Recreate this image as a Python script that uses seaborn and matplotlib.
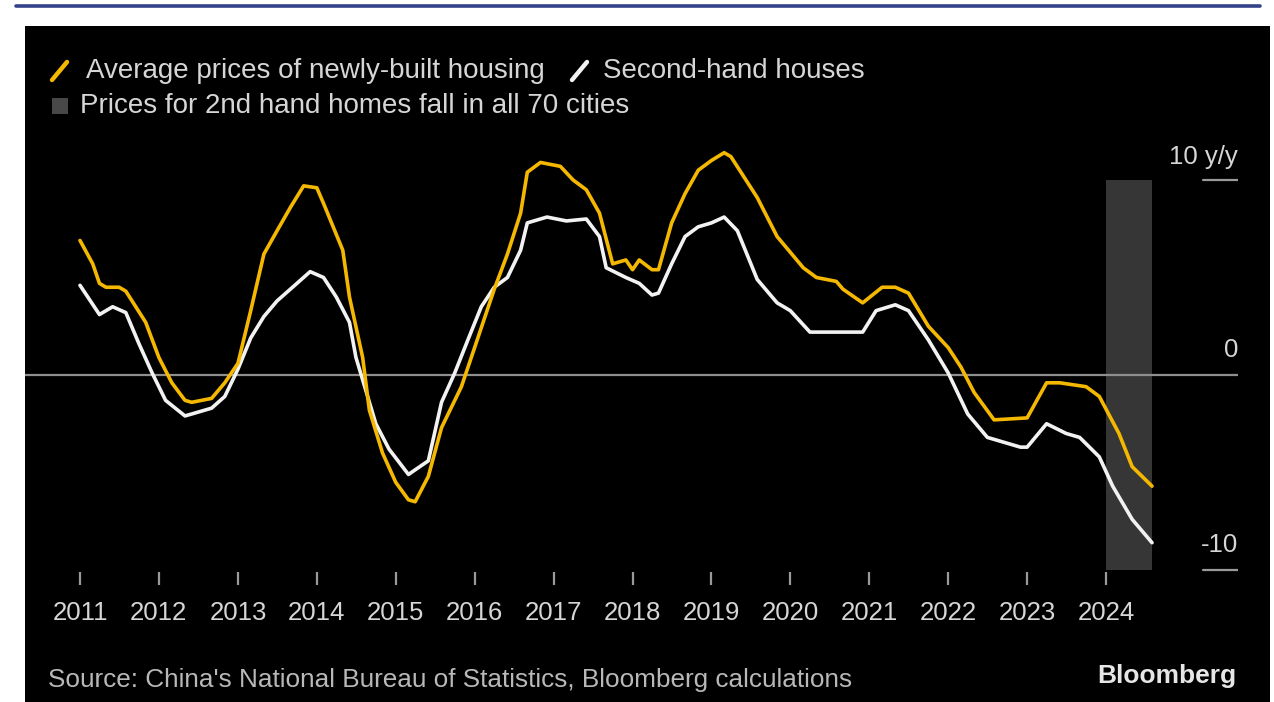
import matplotlib
matplotlib.use("Agg")
import matplotlib.pyplot as plt
import matplotlib.dates as mdates
from matplotlib.patches import Rectangle
from matplotlib.lines import Line2D
import seaborn as sns
import pandas as pd

# ---------------- data ----------------
new_dates = ["2011-01", "2011-03", "2011-04", "2011-05", "2011-07", "2011-08", "2011-11",
             "2012-01", "2012-03", "2012-05", "2012-06", "2012-09", "2012-11",
             "2013-01", "2013-03", "2013-05", "2013-07", "2013-09", "2013-11",
             "2014-01", "2014-02", "2014-05", "2014-06", "2014-08", "2014-09", "2014-11",
             "2015-01", "2015-03", "2015-04", "2015-06", "2015-08", "2015-11",
             "2016-01", "2016-04", "2016-06", "2016-08", "2016-09", "2016-11",
             "2017-02", "2017-04", "2017-06", "2017-08", "2017-10", "2017-12",
             "2018-01", "2018-02", "2018-04", "2018-05", "2018-07", "2018-09", "2018-11",
             "2019-01", "2019-03", "2019-04", "2019-08", "2019-11",
             "2020-03", "2020-05", "2020-08", "2020-09", "2020-12",
             "2021-03", "2021-05", "2021-07", "2021-10",
             "2022-01", "2022-03", "2022-05", "2022-08",
             "2023-01", "2023-04", "2023-06", "2023-10", "2023-12",
             "2024-03", "2024-05", "2024-08"]
new_values = [6.9, 5.7, 4.7, 4.5, 4.5, 4.3, 2.7,
              0.9, -0.4, -1.3, -1.4, -1.2, -0.4,
              0.6, 3.3, 6.2, 7.4, 8.6, 9.7,
              9.6, 8.8, 6.4, 4.0, 0.9, -1.8, -4.0,
              -5.5, -6.4, -6.5, -5.2, -2.7, -0.6,
              1.4, 4.4, 6.2, 8.3, 10.4, 10.9,
              10.7, 10.0, 9.5, 8.3, 5.7, 5.9,
              5.4, 5.9, 5.4, 5.4, 7.8, 9.3, 10.5,
              11.0, 11.4, 11.2, 9.1, 7.1,
              5.5, 5.0, 4.8, 4.4, 3.7,
              4.5, 4.5, 4.2, 2.5,
              1.4, 0.4, -0.9, -2.3,
              -2.2, -0.4, -0.4, -0.6, -1.1,
              -3.0, -4.7, -5.7]

second_dates = ["2011-01", "2011-04", "2011-06", "2011-08", "2011-10", "2011-12",
                "2012-02", "2012-05", "2012-09", "2012-11",
                "2013-01", "2013-03", "2013-05", "2013-07", "2013-10", "2013-12",
                "2014-02", "2014-04", "2014-06", "2014-07", "2014-10", "2014-12",
                "2015-03", "2015-06", "2015-08", "2015-10", "2015-12",
                "2016-02", "2016-04", "2016-06", "2016-08", "2016-09", "2016-12",
                "2017-03", "2017-06", "2017-08", "2017-09", "2017-12",
                "2018-02", "2018-04", "2018-05", "2018-07", "2018-09", "2018-11",
                "2019-01", "2019-03", "2019-05", "2019-08", "2019-11",
                "2020-01", "2020-04", "2020-07", "2020-12",
                "2021-02", "2021-05", "2021-07", "2021-10",
                "2022-01", "2022-04", "2022-07", "2022-12",
                "2023-01", "2023-04", "2023-07", "2023-09", "2023-12",
                "2024-02", "2024-05", "2024-08"]
second_values = [4.6, 3.1, 3.5, 3.2, 1.6, 0.1,
                 -1.3, -2.1, -1.7, -1.1,
                 0.3, 1.9, 3.0, 3.8, 4.7, 5.3,
                 5.0, 4.0, 2.7, 0.9, -2.5, -3.8,
                 -5.1, -4.4, -1.4, 0.1, 1.8,
                 3.5, 4.5, 5.0, 6.4, 7.8, 8.1,
                 7.9, 8.0, 7.1, 5.5, 5.0,
                 4.7, 4.1, 4.2, 5.7, 7.1, 7.6,
                 7.8, 8.1, 7.4, 4.9, 3.7,
                 3.3, 2.2, 2.2, 2.2,
                 3.3, 3.6, 3.3, 1.8,
                 0.1, -2.0, -3.2, -3.7,
                 -3.7, -2.5, -3.0, -3.2, -4.2,
                 -5.7, -7.4, -8.6]

band_start = "2024-01"
band_end = "2024-08"
band_low, band_high = -10, 10

year_ticks = list(range(2011, 2025))
series_labels = ["Average prices of newly-built housing", "Second-hand houses"]
band_label = "Prices for 2nd hand homes fall in all 70 cities"
source_text = "Source: China's National Bureau of Statistics, Bloomberg calculations"

# ---------------- style ----------------
YELLOW = "#f5b800"
WHITE = "#f2f2f2"
BAND = "#363636"
TEXT = "#d6d6d6"

sns.set_theme(style="dark")
plt.rcParams["font.family"] = ["Liberation Sans", "DejaVu Sans"]

W, H = 1274, 702
fig = plt.figure(figsize=(W / 100, H / 100), dpi=100, facecolor="white")

def fx(px):
    return px / W

def fy(py):
    return 1 - py / H

# black panel and blue top rule
fig.patches.append(Rectangle((fx(25), 0), fx(1270) - fx(25), fy(26), transform=fig.transFigure,
                             facecolor="black", edgecolor="none", zorder=-10))
fig.lines.append(Line2D([fx(16), fx(1260)], [fy(5.5), fy(5.5)], transform=fig.transFigure,
                        color="#34428a", lw=2.6, zorder=1))

ax_left, ax_right, ax_top, ax_bot = 25, 1238, 140, 572
ax = fig.add_axes([fx(ax_left), fy(ax_bot), fx(ax_right) - fx(ax_left), fy(ax_top) - fy(ax_bot)])
ax.set_facecolor("none")
ax.set_zorder(5)

df_new = pd.DataFrame({"date": pd.to_datetime(new_dates), "value": new_values})
df_sec = pd.DataFrame({"date": pd.to_datetime(second_dates), "value": second_values})

# band
ax.fill_between(pd.to_datetime([band_start, band_end]), band_low, band_high,
                color=BAND, lw=0, zorder=1)
ax.axhline(0, color="#8f8f8f", lw=1.6, zorder=2)

sns.lineplot(data=df_sec, x="date", y="value", ax=ax, color=WHITE, lw=2.6, zorder=3)
sns.lineplot(data=df_new, x="date", y="value", ax=ax, color=YELLOW, lw=2.6, zorder=4)

# x scale: Jan-2011 at px 80, Jan-2024 at px 1106
d0 = mdates.date2num(pd.Timestamp("2011-01-01"))
d1 = mdates.date2num(pd.Timestamp("2024-01-01"))
k = (d1 - d0) / (1106 - 80)
ax.set_xlim(d0 + (ax_left - 80) * k, d0 + (ax_right - 80) * k)
# y scale: 0 at py 375, 19.5 px per unit
ax.set_ylim((375 - ax_bot) / 19.5, (375 - ax_top) / 19.5)

ax.set_xticks([mdates.date2num(pd.Timestamp(f"{y}-01-01")) for y in year_ticks])
ax.set_xticklabels([str(y) for y in year_ticks])
ax.tick_params(axis="x", which="major", direction="out", length=9, width=1.6,
               color="#9a9a9a", labelcolor=TEXT, labelsize=18.5, pad=12, bottom=True)
ax.set_yticks([])
ax.set_xlabel("")
ax.set_ylabel("")
ax.grid(False)
for s in ax.spines.values():
    s.set_visible(False)

# right-hand scale
ytr = ax.get_yaxis_transform()
xa = (1203 - ax_left) / (ax_right - ax_left)
for v in (10, -10):
    ax.axhline(v, xmin=xa, xmax=1, color="#9a9a9a", lw=1.6)
ax.text(1, 11.2, "10 y/y", transform=ytr, ha="right", va="center", color=TEXT, fontsize=18.5)
ax.text(1, 1.3, "0", transform=ytr, ha="right", va="center", color=TEXT, fontsize=18.5)
ax.text(1, -8.7, "-10", transform=ytr, ha="right", va="center", color=TEXT, fontsize=18.5)

# legend
fig.lines.append(Line2D([fx(52), fx(67)], [fy(80), fy(62)], transform=fig.transFigure,
                        color=YELLOW, lw=3.2, solid_capstyle="round"))
fig.text(fx(86), fy(71), series_labels[0], color=TEXT, fontsize=20, va="center", ha="left")
fig.lines.append(Line2D([fx(572), fx(587)], [fy(80), fy(62)], transform=fig.transFigure,
                        color=WHITE, lw=3.2, solid_capstyle="round"))
fig.text(fx(603), fy(71), series_labels[1], color=TEXT, fontsize=20, va="center", ha="left")
fig.patches.append(Rectangle((fx(52), fy(114)), fx(16), 16 / H, transform=fig.transFigure,
                             facecolor="#484848", edgecolor="none"))
fig.text(fx(80), fy(106), band_label, color=TEXT, fontsize=20, va="center", ha="left")

# footer
fig.text(fx(48), fy(680), source_text, color="#b8b8b8", fontsize=18.8, va="center", ha="left")
fig.text(fx(1236), fy(676), "Bloomberg", color="#e6e6e6", fontsize=19, fontweight="bold",
         va="center", ha="right")

fig.savefig("out.png", dpi=100, facecolor="white")
